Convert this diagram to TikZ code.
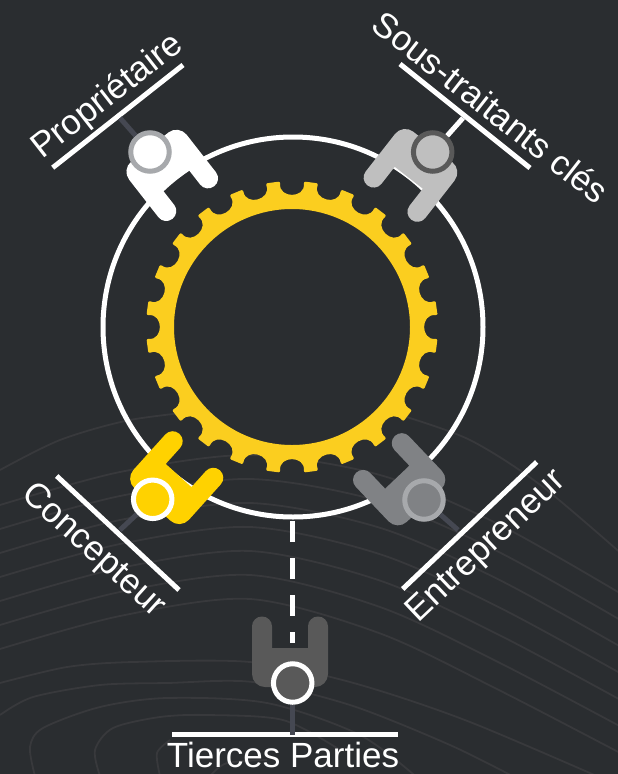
\documentclass[tikz,border=0pt]{standalone}
\usepackage{fontspec}
\setmainfont{Liberation Sans}
\definecolor{fond}{HTML}{2A2D30}
\definecolor{courbe}{HTML}{38393C}
\definecolor{tige}{HTML}{454852}
\definecolor{jaune}{HTML}{FBCE1F}
\definecolor{or}{HTML}{FFD200}
\definecolor{clair}{HTML}{BFBFBF}
\definecolor{moyen}{HTML}{808285}
\definecolor{sombre}{HTML}{595959}
\definecolor{anneau}{HTML}{A7A9AC}

\begin{document}
\begin{tikzpicture}[
      x=1pt,y=-1pt,
      contour/.style ={courbe,line width=1.8pt},
      barre/.style ={white,line width=5pt},
      tige sombre/.style ={tige,line width=5pt},
      tete/.style ={circle,draw=#1,line width=5pt,minimum size=38.5pt,inner sep=0pt},
      etiquette/.style ={text=white,inner sep=0pt,font=\fontsize{35}{35}\selectfont}]
    \useasboundingbox (0,0) rectangle (618,774);
    \fill[fond] (0,0) rectangle (618,774);
    \begin{scope}
    \clip (0,0) rectangle (618,774);
    \foreach \d in {0,24,...,144}
      \draw[contour] plot[smooth] coordinates {(0,{505+\d}) (120,{472+\d}) (250,{455+\d}) (380,{475+\d*1.1}) (500,{525+\d*1.15}) (640,{605+\d*1.1})};
    \draw[contour] plot[smooth] coordinates {(0,683) (67,667) (133,662) (250,662) (350,682) (470,722) (640,795)};
    \draw[contour] plot[smooth] coordinates {(0,715) (33,697) (100,685) (167,683) (253,682) (350,705) (450,745) (520,780)};
    \draw[contour] plot[smooth] coordinates {(35,776) (30,747) (43,728) (100,707) (167,698) (267,703) (360,735) (420,780)};
    \draw[contour] plot[smooth] coordinates {(100,776) (95,750) (113,728) (160,717) (207,715) (283,720) (340,750)};
    \draw[contour] plot[smooth] coordinates {(160,776) (157,753) (170,740)};
    \draw[contour] plot[smooth] coordinates {(210,776) (227,763) (267,760)};
    \draw[contour] plot[smooth] coordinates {(640,570) (543,487) (470,440) (400,415)};
    \draw[contour] plot[smooth] coordinates {(0,470) (60,440) (130,420) (210,410)};
    \end{scope}
    \draw[white,line width=5pt] (293,327) circle [radius=190];
    \begin{scope}[shift={(292,327)}]
    \fill[jaune,even odd rule,rounded corners=2pt] (-4.6:146) \foreach \a in {0,15,...,345} {
        .. controls (\a-6:129) and (\a+6:129) .. (\a+4.6:146) -- (\a+10.4:146)
      } -- cycle (0,0) circle [radius=118];
    \end{scope}
    \foreach \x/\y/\r/\s/\w/\c/\h/\n in {150/152/-142/-3/36.5/white/anneau/proprietaire,
        432.7/152/142/3/37.8/clair/sombre/soustraitants,
        152.7/499.3/-42/3.3/37.3/or/white/concepteur,
        424/500/43.5/-3.7/36.7/moyen/anneau/entrepreneur,
        292.7/683/0/-2.7/38/sombre/white/tierces} {
      \fill[\c,shift={(\x,\y)},rotate=\r,xshift=\s,rounded corners=13pt] (0,4) -- ({-\w},4)
        [rounded corners=9.9pt] -- ({-\w},-66.5) -- ({-\w+20},-66.5) [sharp corners] -- ({-\w+20},-35) -- ({\w-20},-35)
        [rounded corners=9.9pt] -- ({\w-20},-66.5) -- (\w,-66.5) [rounded corners=13pt] -- (\w,4) -- cycle;
      \node[tete=\h,fill=\c] (\n) at (\x,\y) {};
    }
    \coordinate (pA) at (52.7,167.7);
    \coordinate (pB) at (183,65);
    \coordinate (pM) at (120,118);
    \coordinate (sA) at (400,64);
    \coordinate (sB) at (530,168);
    \coordinate (sM) at (463,118);
    \coordinate (cA) at (56.7,476);
    \coordinate (cB) at (179,590);
    \coordinate (cM) at (120,530);
    \coordinate (eA) at (402.7,589);
    \coordinate (eB) at (536.7,462);
    \coordinate (eM) at (458,530);
    \coordinate (tA) at (172,734.5);
    \coordinate (tB) at (398,734.5);
    \coordinate (tM) at (292.7,734.5);
    \coordinate (dA) at (292,521);
    \coordinate (dB) at (292,643);
    \draw[barre] (pA) -- (pB);
    \draw[barre] (sA) -- (sB);
    \draw[barre] (cA) -- (cB);
    \draw[barre] (eA) -- (eB);
    \draw[barre] (tA) -- (tB);
    \draw[tige sombre] (proprietaire) -- (pM);
    \draw[white,line width=5pt] (soustraitants) -- (sM);
    \draw[tige sombre] (concepteur) -- (cM);
    \draw[tige sombre] (entrepreneur) -- (eM);
    \draw[tige sombre] (tierces) -- (tM);
    \draw[white,line width=5pt,dash pattern=on 21pt off 16pt] (dA) -- (dB);
    \node[etiquette,rotate=38] (lprop) at (108,97) {Propriétaire};
    \node[etiquette,rotate=-38] (lsous) at (491,107) {Sous-traitants clés};
    \node[etiquette,rotate=-42] (lconc) at (93,551) {Concepteur};
    \node[etiquette,rotate=43.5] (lentr) at (487,547) {Entrepreneur};
    \node[etiquette] (ltier) at (283,755) {Tierces Parties};
    \end{tikzpicture}
\end{document}
